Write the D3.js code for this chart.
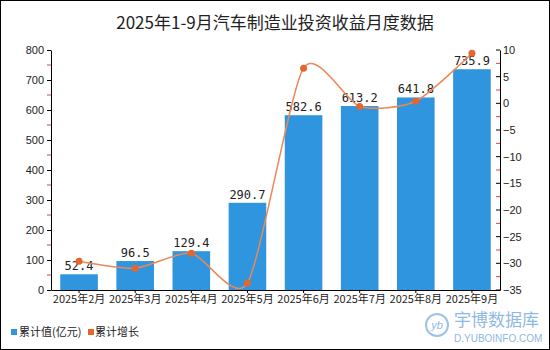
<!DOCTYPE html>
<html><head><meta charset="utf-8">
<script src="https://cdn.jsdelivr.net/npm/d3@7/dist/d3.min.js"></script>
<style>body{margin:0;background:#fff}svg{display:block}</style>
</head><body><svg id="c" width="550" height="350"></svg>
<script>
const categories = ["2025年2月","2025年3月","2025年4月","2025年5月","2025年6月","2025年7月","2025年8月","2025年9月"];
const cumulativeValues = [52.4, 96.5, 129.4, 290.7, 582.6, 613.2, 641.8, 735.9];
const cumulativeGrowth = [-29.6, -30.9, -28.1, -33.7, 6.6, -0.6, 0.4, 9.4];
const leftTicks = [0,100,200,300,400,500,600,700,800];
const rightTicks = [10,5,0,-5,-10,-15,-20,-25,-30,-35];
const titleText = "2025年1-9月汽车制造业投资收益月度数据";
const legendLabels = ["累计值(亿元)","累计增长"];

const svg = d3.select("#c");
const W=550,H=350, L=51, R=500, T=50, B=290;
const font = "'Liberation Sans', Arial, sans-serif";
const barColor = "#2f95de", lineColor = "#ee8656", dotColor = "#e5662c";

svg.append("rect").attr("x",0.5).attr("y",0.5).attr("width",W-1).attr("height",H-1).attr("fill","#fff").attr("stroke","#000");

svg.append("text").attr("x",W/2).attr("y",29).attr("text-anchor","middle")
  .attr("font-family","'Noto Sans CJK SC', sans-serif").attr("font-size",17).attr("fill","#222").text(titleText);

const x = d3.scaleBand().domain(categories).range([L,R]).paddingInner(0.33).paddingOuter(0.165);
const yL = d3.scaleLinear().domain([0,800]).range([B,T]);
const yR = d3.scaleLinear().domain([-35,10]).range([B,T]);

// bars
svg.append("g").selectAll("rect").data(cumulativeValues).join("rect")
  .attr("x",(d,i)=>x(categories[i])).attr("y",d=>yL(d))
  .attr("width",x.bandwidth()).attr("height",d=>B-yL(d)).attr("fill",barColor);

// bar labels
svg.append("g").selectAll("text").data(cumulativeValues).join("text")
  .attr("x",(d,i)=>x(categories[i])+x.bandwidth()/2).attr("y",d=>yL(d)-4)
  .attr("text-anchor","middle").attr("font-family","'DejaVu Sans Mono', monospace").attr("font-size",12)
  .attr("fill","#222").text(d=>d.toFixed(1));

// left axis
const gL = svg.append("g").attr("transform",`translate(${L},0)`)
  .call(d3.axisLeft(yL).tickValues(leftTicks).tickSize(4).tickSizeOuter(0));
gL.selectAll("text").attr("font-family",font).attr("font-size",11).attr("fill","#222");
gL.selectAll("line,path").attr("stroke","#000");
// minor ticks left
svg.append("g").selectAll("line").data(d3.range(50,800,100)).join("line")
  .attr("x1",L-4).attr("x2",L).attr("y1",d=>yL(d)).attr("y2",d=>yL(d)).attr("stroke","#e04040");

// right axis (ticks inward)
const gR = svg.append("g").attr("transform",`translate(${R},0)`)
  .call(d3.axisRight(yR).tickValues(rightTicks).tickSize(0).tickPadding(3).tickSizeOuter(0)
  .tickFormat(d=>d<0?"\u2212"+Math.abs(d):d));
gR.selectAll("text").attr("font-family",font).attr("font-size",11).attr("fill","#222");
gR.selectAll("path").attr("stroke","#000");
svg.append("g").selectAll("line").data(rightTicks).join("line")
  .attr("x1",R-4).attr("x2",R).attr("y1",d=>yR(d)).attr("y2",d=>yR(d)).attr("stroke","#000");
svg.append("g").selectAll("line").data(d3.range(-32.5,10,5)).join("line")
  .attr("x1",R-4).attr("x2",R).attr("y1",d=>yR(d)).attr("y2",d=>yR(d)).attr("stroke","#e04040");

// x axis
const gX = svg.append("g").attr("transform",`translate(0,${B})`)
  .call(d3.axisBottom(x).tickSize(3).tickSizeOuter(0));
gX.selectAll("text").attr("font-family","'Noto Sans CJK SC', sans-serif").attr("font-size",11).attr("fill","#222").attr("dy","0.6em");
gX.selectAll("line,path").attr("stroke","#000");

// line
const cx = i => x(categories[i])+x.bandwidth()/2;
const line = d3.line().x((d,i)=>cx(i)).y(d=>yR(d)).curve(d3.curveCardinal.tension(0.3));
svg.append("path").datum(cumulativeGrowth).attr("d",line).attr("fill","none")
  .attr("stroke",lineColor).attr("stroke-width",1.5);
svg.append("g").selectAll("circle").data(cumulativeGrowth).join("circle")
  .attr("cx",(d,i)=>cx(i)).attr("cy",d=>yR(d)).attr("r",3.5).attr("fill",dotColor);

// legend
const lg = svg.append("g").attr("font-family","'Noto Sans CJK SC', sans-serif").attr("font-size",11).attr("fill","#222");
lg.append("rect").attr("x",11).attr("y",329).attr("width",6).attr("height",6).attr("fill",barColor);
lg.append("text").attr("x",19).attr("y",336).text(legendLabels[0]);
lg.append("rect").attr("x",88).attr("y",329).attr("width",6).attr("height",6).attr("fill",dotColor);
lg.append("text").attr("x",95).attr("y",336).text(legendLabels[1]);

// watermark
const wm = svg.append("g");
wm.append("circle").attr("cx",437).attr("cy",325).attr("r",11).attr("fill","none").attr("stroke","#9cc3e6").attr("stroke-width",2);
wm.append("text").attr("x",437).attr("y",329).attr("text-anchor","middle").attr("font-family",font).attr("font-style","italic").attr("font-size",11).attr("fill","#8fb9e0").text("yb");
wm.append("text").attr("x",454).attr("y",326).attr("font-family","'Noto Sans CJK SC', sans-serif").attr("font-size",17).attr("fill","#8fb9e0").text("宇博数据库");
wm.append("text").attr("x",454).attr("y",342).attr("font-family",font).attr("font-size",10).attr("fill","#8fb9e0").text("D.YUBOINFO.COM");
</script></body></html>
